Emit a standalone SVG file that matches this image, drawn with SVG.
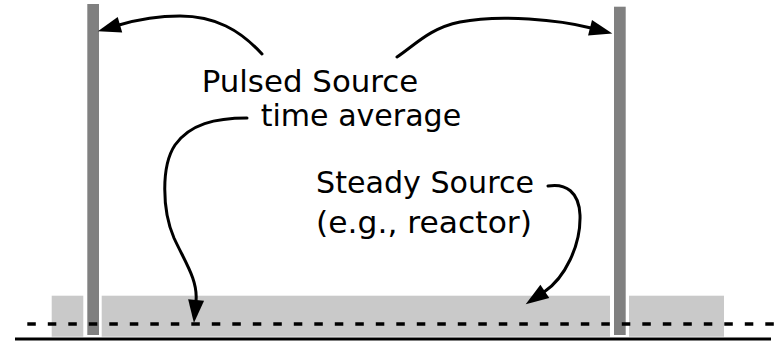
<svg xmlns="http://www.w3.org/2000/svg" width="775" height="342" viewBox="0 0 775 342">
  <style>
    .lbl { font-family: "DejaVu Sans", "Liberation Sans", sans-serif; font-size: 31px; fill: #000; }
    .region { fill: #c9c9c9; }
    .bar { fill: #808080; }
    .conn { fill: none; stroke: #000; stroke-width: 3; stroke-linecap: round; }
  </style>
  <defs>
    <marker id="ah" markerUnits="userSpaceOnUse" markerWidth="26" markerHeight="20" refX="1" refY="0" viewBox="0 -10 26 20" orient="auto" overflow="visible">
      <path d="M0,-8 L23,0 L0,8 Z" fill="#000"/>
    </marker>
  </defs>
  <rect width="775" height="342" fill="#fff"/>

  <g id="steady-regions">
    <rect class="region" x="51.7" y="295.7" width="31.6" height="41"/>
    <rect class="region" x="101.7" y="295.7" width="508.3" height="41"/>
    <rect class="region" x="629" y="295.7" width="95" height="41"/>
  </g>

  <g id="pulse-left">
    <rect class="bar" x="87.3" y="4" width="11.7" height="331"/>
  </g>
  <g id="pulse-right">
    <rect class="bar" x="614" y="6.7" width="11.7" height="328.3"/>
  </g>

  <g id="average-line">
    <line x1="27.3" y1="324" x2="775" y2="324" stroke="#000" stroke-width="3.5" stroke-dasharray="8.5 12"/>
  </g>
  <g id="baseline">
    <line x1="15" y1="339" x2="771" y2="339" stroke="#000" stroke-width="3"/>
  </g>

  <g id="label-pulsed">
    <text class="lbl" x="201.7" y="92" textLength="216.6" lengthAdjust="spacingAndGlyphs">Pulsed Source</text>
    <text class="lbl" x="260.7" y="125.5" textLength="200.5" lengthAdjust="spacingAndGlyphs">time average</text>
  </g>
  <g id="label-steady">
    <text class="lbl" x="316" y="193" textLength="218" lengthAdjust="spacingAndGlyphs">Steady Source</text>
    <text class="lbl" x="316" y="233" textLength="216" lengthAdjust="spacingAndGlyphs">(e.g., reactor)</text>
  </g>

  <g id="connectors">
    <path class="conn" d="M262,54 C240,30 215,16 180,16 C155,16 136,20 119,25" marker-end="url(#ah)"/>
    <path class="conn" d="M397,57 C415,45 430,28 460,22 C500,14 560,20 591,28" marker-end="url(#ah)"/>
    <path class="conn" d="M247,118 C215,118 190,124 175,145 C161,166 162,210 174,238 C185,262 198,280 196,301" marker-end="url(#ah)"/>
    <path class="conn" d="M548,186 C566,183 579,192 580,215 C581,245 565,278 544,292" marker-end="url(#ah)"/>
  </g>
</svg>
